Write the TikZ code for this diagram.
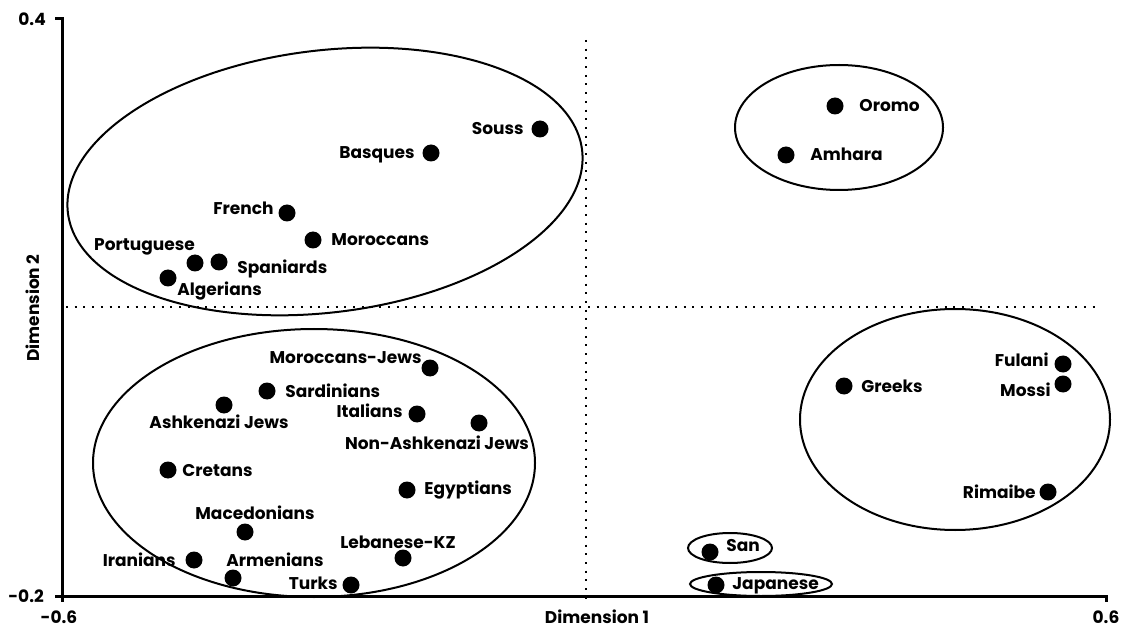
\documentclass[tikz,border=0pt]{standalone}
\usepackage{fontspec}
\setmainfont{Poppins}
\usetikzlibrary{positioning,calc}

\begin{document}
\begin{tikzpicture}[x=1pt,y=1pt,
  font=\bfseries\fontsize{17}{19}\selectfont,
  pop/.style={circle,fill=black,inner sep=0pt,minimum size=17pt},
  lbl/.style={inner sep=0pt,text height=12pt,text depth=0pt},
  grp/.style={line width=2pt},
  ax/.style={line width=3pt},
  refline/.style={line width=2pt,dash pattern=on 2pt off 6.7pt}]
  \useasboundingbox (0,0) rectangle (1127,630);
  % axes
  \coordinate (o) at (62,34);
  \coordinate (ytop) at (62,611);
  \coordinate (xend) at (1106,34);
  \coordinate (vtop) at (586,590);
  \coordinate (vbot) at (586,30);
  \coordinate (hl) at (66,323);
  \coordinate (hr) at (1095,323);
  \draw[refline] (vtop) -- (vbot);
  \draw[refline] (hl) -- (hr);
  \draw[ax] ($(ytop)+(-7,0)$) -- (ytop) -- ($(o)+(0,-6)$);
  \draw[ax] ($(o)+(-7,0)$) -- (xend) -- ($(xend)+(0,-6)$);
  \node[anchor=east,inner sep=0pt] (ymax) at ($(ytop)+(-16,0)$) {0.4};
  \node[anchor=east,inner sep=0pt] (ymin) at ($(o)+(-18,0)$) {-0.2};
  \node[lbl] (xmin) at ($(o)+(-3,-21)$) {-0.6};
  \node[lbl] (xmax) at ($(xend)+(0,-21)$) {0.6};
  \node[lbl] (xlab) at (597,13) {Dimension 1};
  \node[inner sep=0pt,rotate=90] (ylab) at (33,322) {Dimension 2};

  % populations
  \node[pop] (sou) at (540,501) {};
  \node[pop] (bas) at (431,477) {};
  \node[pop] (fre) at (287,417) {};
  \node[pop] (mor) at (313,390) {};
  \node[pop] (por) at (195,367) {};
  \node[pop] (spa) at (219,368) {};
  \node[pop] (alg) at (168,352) {};
  \node[pop] (oro) at (835,524) {};
  \node[pop] (amh) at (786,475) {};
  \node[pop] (mjw) at (430,262) {};
  \node[pop] (sar) at (267,239) {};
  \node[pop] (ash) at (224,225) {};
  \node[pop] (ita) at (417,216) {};
  \node[pop] (naj) at (479,207) {};
  \node[pop] (cre) at (168,160) {};
  \node[pop] (egy) at (407,140) {};
  \node[pop] (mac) at (245,98) {};
  \node[pop] (ira) at (194,70) {};
  \node[pop] (arm) at (233,52) {};
  \node[pop] (tur) at (351,45) {};
  \node[pop] (leb) at (403,72) {};
  \node[pop] (gre) at (844,244) {};
  \node[pop] (ful) at (1063,266) {};
  \node[pop] (mos) at (1063,246) {};
  \node[pop] (rim) at (1048,138) {};
  \node[pop] (san) at (710,78) {};
  \node[pop] (jap) at (716,45) {};

  % names
  \node[lbl,left=7.5pt of sou] (souL) {Souss};
  \node[lbl,left=7.5pt of bas] (basL) {Basques};
  \node[lbl,left=4.5pt of fre,yshift=4pt] (freL) {French};
  \node[lbl,right=9.5pt of mor] (morL) {Moroccans};
  \node[lbl] (porL) at ($(por)+(-50.5,18)$) {Portuguese};
  \node[lbl,right=9.5pt of spa,yshift=-6pt] (spaL) {Spaniards};
  \node[lbl,right=0.5pt of alg,yshift=-12pt] (algL) {Algerians};
  \node[lbl,right=15.5pt of oro] (oroL) {Oromo};
  \node[lbl,right=15.5pt of amh] (amhL) {Amhara};
  \node[lbl,left=-0.5pt of mjw,yshift=10pt] (mjwL) {Moroccans-Jews};
  \node[lbl,right=9.5pt of sar] (sarL) {Sardinians};
  \node[lbl] (ashL) at ($(ash)+(-5,-17)$) {Ashkenazi Jews};
  \node[lbl,left=5.5pt of ita,yshift=3pt] (itaL) {Italians};
  \node[lbl] (najL) at ($(naj)+(-42,-20)$) {Non-Ashkenazi Jews};
  \node[lbl,right=5.5pt of cre] (creL) {Cretans};
  \node[lbl,right=8.5pt of egy,yshift=2pt] (egyL) {Egyptians};
  \node[lbl] (macL) at ($(mac)+(10,19)$) {Macedonians};
  \node[lbl,left=9.5pt of ira] (iraL) {Iranians};
  \node[lbl] (armL) at ($(arm)+(42,18)$) {Armenians};
  \node[lbl,left=4.5pt of tur,yshift=2pt] (turL) {Turks};
  \node[lbl] (lebL) at ($(leb)+(-5,16)$) {Lebanese-KZ};
  \node[lbl,right=8.5pt of gre] (greL) {Greeks};
  \node[lbl,left=5.5pt of ful,yshift=3pt] (fulL) {Fulani};
  \node[lbl,left=3.5pt of mos,yshift=-6pt] (mosL) {Mossi};
  \node[lbl,left=3.5pt of rim] (rimL) {Rimaibe};
  \node[lbl,right=7.5pt of san,yshift=7pt] (sanL) {San};
  \node[lbl,right=7.5pt of jap,yshift=2pt] (japL) {Japanese};

  % clusters
  \coordinate (cNorth) at (325,448.5);
  \coordinate (cMed) at (314,167);
  \coordinate (cEast) at (839,502.5);
  \coordinate (cWest) at (955,210.5);
  \coordinate (cSan) at (730,82);
  \coordinate (cJap) at (761,46);
  \draw[grp] (cNorth) ellipse [x radius=259pt,y radius=131pt,rotate=7];
  \draw[grp] (cMed) ellipse [x radius=221pt,y radius=134pt];
  \draw[grp] (cEast) ellipse [x radius=104pt,y radius=62.5pt];
  \draw[grp] (cWest) ellipse [x radius=155pt,y radius=110.5pt];
  \draw[grp] (cSan) ellipse [x radius=42pt,y radius=15pt];
  \draw[grp] (cJap) ellipse [x radius=71pt,y radius=12pt];
\end{tikzpicture}
\end{document}
